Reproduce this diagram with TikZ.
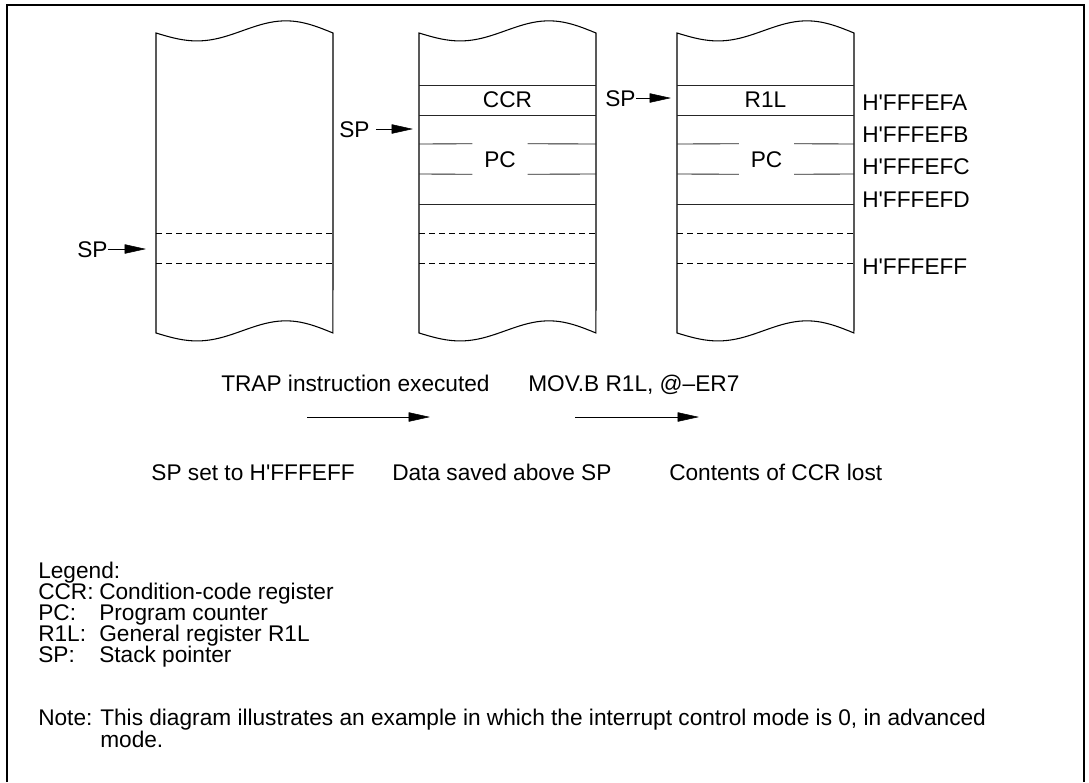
\documentclass[tikz,border=0pt]{standalone}
\usepackage{fontspec}
\setmainfont{Liberation Sans}
\usetikzlibrary{arrows.meta}
\newcommand{\hq}{\textquotesingle}

\begin{document}
\begin{tikzpicture}[x=0.75pt,y=-0.75pt,>={Triangle[length=16pt,width=7pt]},
  font=\fontsize{17}{20}\selectfont,
  txt/.style={inner sep=0pt,anchor=west,text height=12.2pt,text depth=0pt},
  rowline/.style={line width=0.65pt,black!85},
  dashrow/.style={line width=0.6pt,dash pattern=on 4.5pt off 3pt},
  pcbox/.style={inner sep=0pt,minimum width=41pt,minimum height=22.5pt,text height=12.2pt,text depth=0pt}]
  \useasboundingbox (0,0) rectangle (1089,782);
  \draw[line width=1.5pt] (7,782) -- (7,5) -- (1084,5) -- (1084,782);

  % memory columns with torn top and bottom
  \foreach \c in {156,419,677}{
    \draw[line width=0.8pt] (\c,33) -- (\c,333)
      -- plot[domain=0:1,samples=40,variable=\t] ({\c+177*\t},{333+10*sin(360*\t)-3*sin(180*\t)})
      -- (\c+177,33)
      -- plot[domain=1:0,samples=40,variable=\t] ({\c+177*\t},{33+10*sin(360*\t)-3*sin(180*\t)})
      -- cycle;
    \draw[dashrow] (\c,233) -- ++(177,0) (\c,263) -- ++(177,0);
  }
  \foreach \c in {419,677}
    \draw[rowline] (\c,85) -- ++(177,0) (\c,115) -- ++(177,0) (\c,204) -- ++(177,0);

  \node (ccr) at (507.5,100) {CCR};
  \node (rl) at (765.5,100) {R1L};
  \node[pcbox] (pcb) at (500,159) {PC};
  \node[pcbox] (pcc) at (766.5,159) {PC};
  \draw[rowline] (419,144) -- (pcb.north west) (pcb.north east) -- (596,144)
    (419,174) -- (pcb.south west) (pcb.south east) -- (596,174);
  \draw[rowline] (677,144) -- (pcc.north west) (pcc.north east) -- (854,144)
    (677,174) -- (pcc.south west) (pcc.south east) -- (854,174);

  % stack pointers
  \node[txt] (sp1) at (77,249) {SP};
  \node[txt] (sp2) at (339,129) {SP};
  \node[txt] (sp3) at (605,98) {SP};
  \coordinate (t1) at (146,249);
  \coordinate (t2) at (413,129);
  \coordinate (t3) at (671,98);
  \draw[->] (sp1) -- (t1);
  \draw[->,shorten <=4.5pt] (sp2) -- (t2);
  \draw[->] (sp3) -- (t3);

  % addresses
  \foreach \y/\a in {102/FA,134/FB,166/FC,199/FD,266/FF}
    \node[txt] (adr\a) at (862,\y) {H\hq FFFE\a};

  % transitions
  \node[txt] (trap) at (221,383) {TRAP instruction executed};
  \node[txt] (mov) at (528,383) {MOV.B R1L, @--ER7};
  \coordinate (a1) at (307,417);
  \coordinate (b1) at (430,417);
  \coordinate (a2) at (575,417);
  \coordinate (b2) at (699,417);
  \draw[->] (a1) -- (b1);
  \draw[->] (a2) -- (b2);
  \node[txt,anchor=east] (st1) at (355,472) {SP set to H\hq FFFEFF};
  \node[txt] (st2) at (392,472) {Data saved above SP};
  \node[txt] (st3) at (669,472) {Contents of CCR lost};

  % legend
  \node[txt] (leg) at (38,570) {Legend:};
  \foreach \ky/\ds [count=\i] in {CCR:/Condition-code register,PC:/Program counter,
      R1L:/General register R1L,SP:/Stack pointer}{
    \node[txt] (key\i) at (38,570+21*\i) {\ky};
    \node[txt] (desc\i) at (99,570+21*\i) {\ds};
  }
  \node[txt] (note) at (38,717) {Note:};
  \node[txt] (notea) at (100,717) {This diagram illustrates an example in which the interrupt control mode is 0, in advanced};
  \node[txt] (noteb) at (100,739) {mode.};
\end{tikzpicture}
\end{document}
